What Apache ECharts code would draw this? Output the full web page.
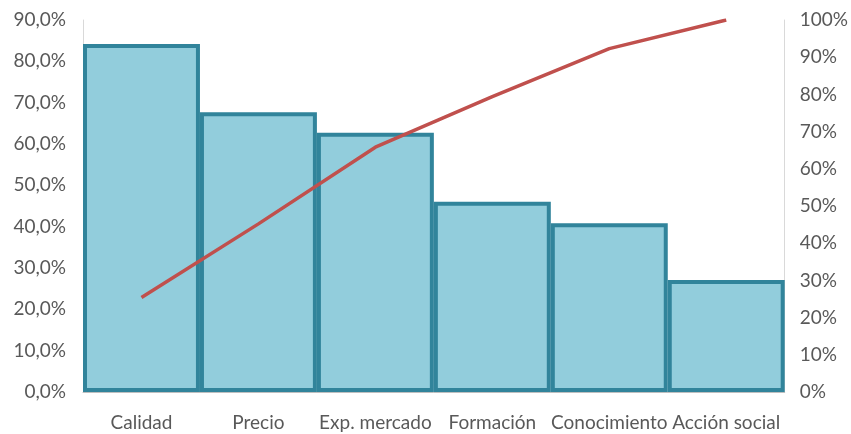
<!DOCTYPE html>
<html>
<head>
<meta charset="utf-8">
<script src="https://cdn.jsdelivr.net/npm/echarts@6/dist/echarts.min.js"></script>
<style>
  html, body { margin: 0; padding: 0; background: #fff; }
  #chart { width: 851px; height: 434px; }
</style>
</head>
<body>
<div id="chart"></div>
<script>
// Factores ordenados por frecuencia (barras) y porcentaje acumulado (línea)
const categories = ['Calidad', 'Precio', 'Exp. mercado', 'Formación', 'Conocimiento', 'Acción social'];
const frecuencia = [84.2, 67.7, 62.7, 46.0, 40.8, 27.1];
const acumulado = [25.4, 45.2, 65.8, 79.4, 92.3, 100.0];
const leftTicks = { min: 0, max: 90, interval: 10 };
const rightTicks = { min: 0, max: 100, interval: 10 };

const textColor = '#595959';
const fontFamily = 'Lato, "Open Sans", sans-serif';
const fontSize = 19;

const chart = echarts.init(document.getElementById('chart'), null, { renderer: 'canvas' });
chart.setOption({
  animation: false,
  backgroundColor: '#ffffff',
  grid: { left: 83, right: 66, top: 20, bottom: 42, containLabel: false },
  xAxis: {
    type: 'category',
    data: categories,
    axisTick: { show: false },
    axisLine: { show: true, lineStyle: { color: '#bfbfbf', width: 1 } },
    axisLabel: { color: textColor, fontFamily, fontSize, interval: 0, margin: 21 }
  },
  yAxis: [
    {
      type: 'value',
      min: leftTicks.min, max: leftTicks.max, interval: leftTicks.interval,
      splitLine: { show: false },
      axisTick: { show: false },
      axisLine: { show: true, lineStyle: { color: '#d9d9d9', width: 1 } },
      axisLabel: {
        color: textColor, fontFamily, fontSize, margin: 17,
        formatter: v => v.toFixed(1).replace('.', ',') + '%'
      }
    },
    {
      type: 'value',
      min: rightTicks.min, max: rightTicks.max, interval: rightTicks.interval,
      splitLine: { show: false },
      axisTick: { show: false },
      axisLine: { show: true, lineStyle: { color: '#d9d9d9', width: 1 } },
      axisLabel: {
        color: textColor, fontFamily, fontSize, margin: 15,
        formatter: v => v + '%'
      }
    }
  ],
  series: [
    {
      type: 'bar',
      data: frecuencia,
      yAxisIndex: 0,
      barCategoryGap: '0%',
      barGap: '0%',
      itemStyle: { color: '#92cddc', borderColor: '#31849b', borderWidth: 4 }
    },
    {
      type: 'line',
      data: acumulado,
      yAxisIndex: 1,
      showSymbol: false,
      symbol: 'none',
      lineStyle: { color: '#c0504d', width: 3.5 },
      z: 5
    }
  ]
});
</script>
</body>
</html>
